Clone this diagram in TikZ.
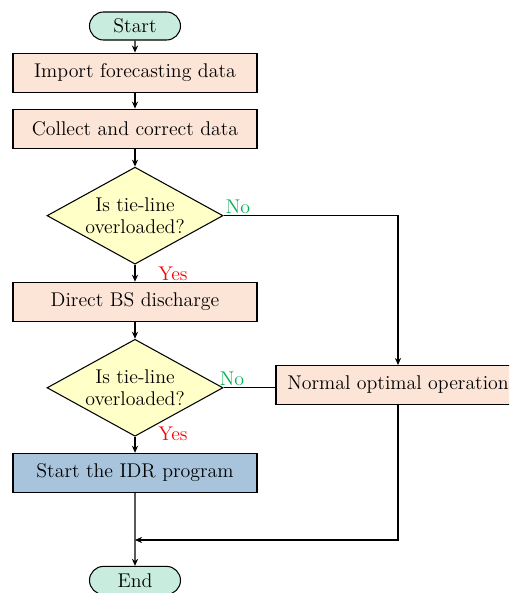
\documentclass[tikz,border=0pt]{standalone}
\usepackage{xcolor}
\usetikzlibrary{shapes,arrows,positioning,calc,arrows.meta}

\definecolor{termfill}{RGB}{200,236,222}
\definecolor{boxfill}{RGB}{252,228,214}
\definecolor{askfill}{RGB}{255,255,200}
\definecolor{idrfill}{RGB}{167,196,220}
\definecolor{nogreen}{RGB}{0,176,80}

\tikzset{
  every node/.style={font=\fontsize{11.3pt}{13pt}\selectfont},
  term/.style={draw, fill=termfill, rounded rectangle, minimum width=1.82cm, minimum height=0.56cm, inner sep=0pt},
  procbox/.style={draw, fill=boxfill, minimum width=4.88cm, minimum height=0.78cm, inner sep=1pt},
  ask/.style={draw, fill=askfill, diamond, minimum width=3.52cm, minimum height=1.94cm, inner sep=-0.3cm, align=center},
  flow/.style={line width=0.6pt, -{Stealth[length=4pt,width=3.5pt]}},
  plain/.style={line width=0.6pt}
}

\begin{document}
\begin{tikzpicture}[line width=0.6pt]
        \useasboundingbox (0,0) rectangle (10.18,-11.86);
        \clip (0,0) rectangle (10.18,-11.86);

        \node[term] (start) at (2.70,-0.52) {Start};
        \node[procbox, below=0.24cm of start] (import) {Import forecasting data};
        \node[procbox, below=0.32cm of import] (collect) {Collect and correct data};
        \node[ask, below=0.36cm of collect] (ask1) {Is tie-line\\overloaded?};
        \node[procbox, below=0.34cm of ask1] (direct) {Direct BS discharge};
        \node[ask, below=0.34cm of direct] (ask2) {Is tie-line\\overloaded?};
        \node[procbox, fill=idrfill, below=0.32cm of ask2] (idr) {Start the IDR program};
        \node[term, below=1.46cm of idr] (end) {End};
        \node[procbox] (normal) at (7.96,-7.70) {Normal optimal operation};
        \coordinate (join) at (2.70,-10.80);

        \draw[flow] (start) -- (import);
        \draw[flow] (import) -- (collect);
        \draw[flow] (collect) -- (ask1);
        \draw[flow] (ask1) -- (direct);
        \draw[flow] (direct) -- (ask2);
        \draw[flow] (ask2) -- (idr);
        \draw[flow] (idr) -- (end);
        \draw[flow] (ask1.east) -| (normal.north);
        \draw[plain] (ask2.east) -- (ask2.east -| normal.west);
        \draw[flow] (normal.south) |- (join);

        \node[text=nogreen, anchor=south west, inner sep=1pt] at (ask1.east) {No};
        \node[text=nogreen, anchor=south west, inner sep=1pt] at ($(ask2.east)+(-0.12,0)$) {No};
        \node[text=red, anchor=north west, inner sep=1pt] at ($(ask1.south)+(0.42,0)$) {Yes};
        \node[text=red, anchor=north west, inner sep=1pt] at ($(ask2.south)+(0.42,0.24)$) {Yes};
    \end{tikzpicture}
\end{document}
